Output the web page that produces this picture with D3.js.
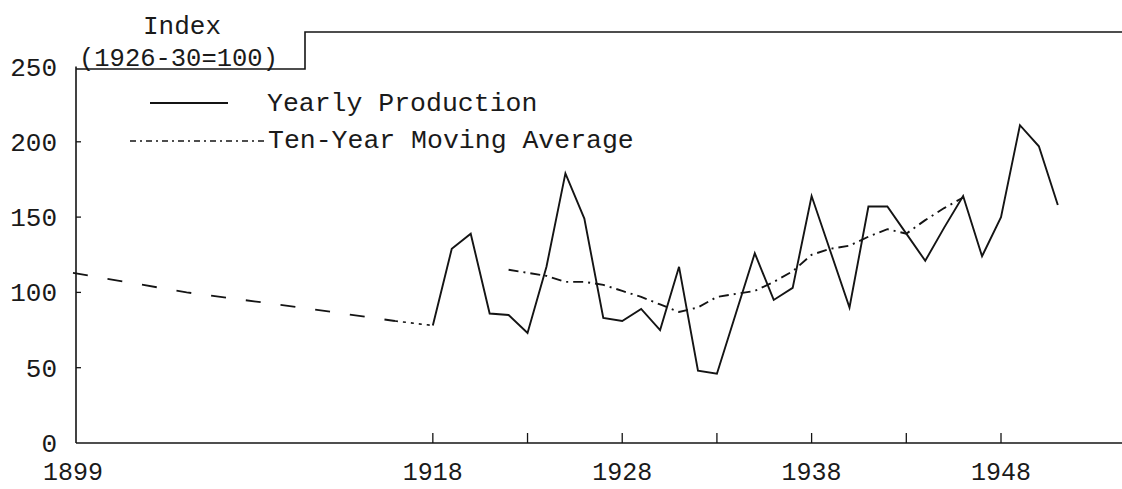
<!DOCTYPE html>
<html>
<head>
<meta charset="utf-8">
<script src="https://cdn.jsdelivr.net/npm/d3@7"></script>
<style>
  html, body { margin: 0; padding: 0; background: #fff; }
  svg { display: block; }
  text { font-family: "Liberation Mono", "DejaVu Sans Mono", monospace; fill: #1a1a1a; }
</style>
</head>
<body>
<svg id="chart" width="1122" height="489"></svg>
<script>
// ---- data ----
const years = [1918,1919,1920,1921,1922,1923,1924,1925,1926,1927,1928,1929,1930,1931,1932,1933,1934,1935,1936,1937,1938,1939,1940,1941,1942,1943,1944,1945,1946,1947,1948,1949,1950,1951];
const production = [78,129,139,86,85,73,117,179,149,83,81,89,75,117,48,46,86,126,95,103,164,127,90,157,157,139,121,143,164,124,150,211,197,158];
const avgYears = [1922,1923,1924,1925,1926,1927,1928,1929,1930,1931,1932,1933,1934,1935,1936,1937,1938,1939,1940,1941,1942,1943,1944,1945,1946];
const movingAvg = [115,113,111,107,107,105,101,97,92,87,90,97,99,101,107,114,125,129,131,137,142,139,148,156,163];
const earlyYears = [1899,1905,1911,1916];
const earlyValues = [113,100,90,81];
const yTicks = [0,50,100,150,200,250];
const xTicks = [1918,1923,1928,1933,1938,1943,1948];
const xLabels = [1899,1918,1928,1938,1948];
const legendLabels = ["Yearly Production","Ten-Year Moving Average"];
const unitTitle = ["Index","(1926-30=100)"];

// ---- setup ----
const W = 1122, H = 489;
const svg = d3.select("#chart");
const x = d3.scaleLinear().domain([1899, 1948]).range([73, 1001]);
const y = d3.scaleLinear().domain([0, 250]).range([443, 66.5]);
const ink = "#141414";

// axes
const axisX = 76;
svg.append("line").attr("x1", axisX).attr("x2", axisX).attr("y1", y(0)).attr("y2", y(250))
  .attr("stroke", ink).attr("stroke-width", 1.6);
svg.append("line").attr("x1", axisX).attr("x2", W).attr("y1", y(0)).attr("y2", y(0))
  .attr("stroke", ink).attr("stroke-width", 1.6);

// y ticks (small inward) and labels
svg.selectAll(".ytick").data(yTicks.filter(d => d > 0 && d < 250)).enter().append("line")
  .attr("x1", axisX).attr("x2", axisX + 5).attr("y1", d => y(d)).attr("y2", d => y(d))
  .attr("stroke", ink).attr("stroke-width", 1.3);
svg.selectAll(".ylab").data(yTicks).enter().append("text")
  .attr("x", 57).attr("y", d => y(d) + 9).attr("text-anchor", "end")
  .attr("font-size", 26).text(d => d);

// x ticks (upward) and labels
svg.selectAll(".xtick").data(xTicks).enter().append("line")
  .attr("x1", d => x(d)).attr("x2", d => x(d)).attr("y1", y(0)).attr("y2", y(0) - 10)
  .attr("stroke", ink).attr("stroke-width", 1.3);
svg.selectAll(".xlab").data(xLabels).enter().append("text")
  .attr("x", d => x(d)).attr("y", 480).attr("text-anchor", "middle")
  .attr("font-size", 25).text(d => d);

// title box: Index (1926-30=100) with bracket and top rule
svg.append("text").attr("x", 143).attr("y", 34).attr("font-size", 26).text(unitTitle[0]);
svg.append("text").attr("x", 79).attr("y", 66).attr("font-size", 25.5).text(unitTitle[1]);
svg.append("path")
  .attr("d", `M${axisX},69 H305 V32 H${W}`)
  .attr("fill", "none").attr("stroke", ink).attr("stroke-width", 1.6);

// lines
const line = d3.line().x(d => x(d[0])).y(d => y(d[1]));
const prodPts = years.map((yr, i) => [yr, production[i]]);
const avgPts = avgYears.map((yr, i) => [yr, movingAvg[i]]);
const earlyPts = earlyYears.map((yr, i) => [yr, earlyValues[i]]);
const joinPts = [earlyPts[earlyPts.length - 1], prodPts[0]];

svg.append("path").datum(earlyPts).attr("d", line)
  .attr("fill", "none").attr("stroke", ink).attr("stroke-width", 1.8)
  .attr("stroke-dasharray", "15,20");
svg.append("path").datum(joinPts).attr("d", line)
  .attr("fill", "none").attr("stroke", ink).attr("stroke-width", 1.6)
  .attr("stroke-dasharray", "3,5");
svg.append("path").datum(avgPts).attr("d", line)
  .attr("fill", "none").attr("stroke", ink).attr("stroke-width", 1.9)
  .attr("stroke-dasharray", "10,5,2,5");
svg.append("path").datum(prodPts).attr("d", line)
  .attr("fill", "none").attr("stroke", ink).attr("stroke-width", 1.9)
  .attr("stroke-linejoin", "miter");

// legend
svg.append("line").attr("x1", 150).attr("x2", 228).attr("y1", 103).attr("y2", 103)
  .attr("stroke", ink).attr("stroke-width", 1.8);
svg.append("text").attr("x", 267).attr("y", 111).attr("font-size", 26.5).text(legendLabels[0]);
svg.append("line").attr("x1", 130).attr("x2", 265).attr("y1", 141).attr("y2", 141)
  .attr("stroke", ink).attr("stroke-width", 1.6).attr("stroke-dasharray", "6,4,2,4");
svg.append("text").attr("x", 268).attr("y", 148).attr("font-size", 26.5).text(legendLabels[1]);
</script>
</body>
</html>
